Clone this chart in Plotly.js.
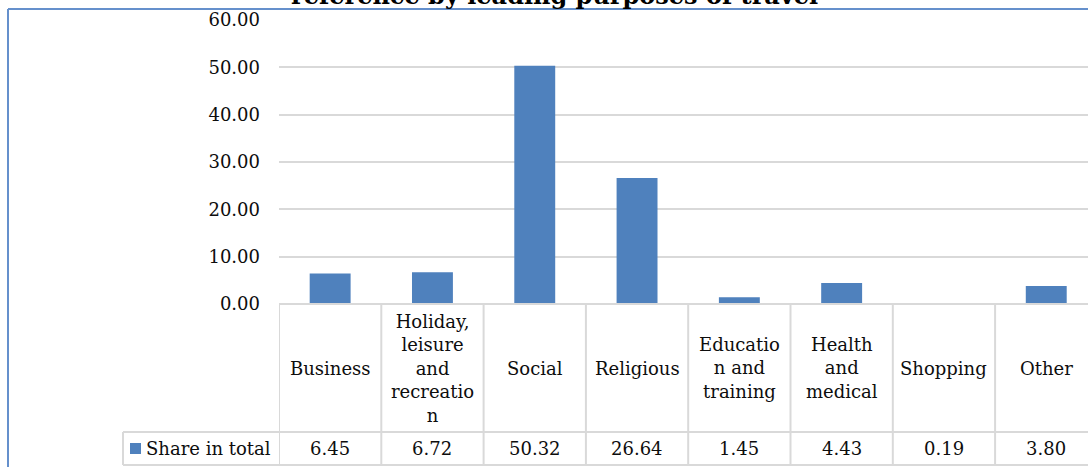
<!DOCTYPE html>
<html>
<head>
<meta charset="utf-8">
<script src="https://cdn.plot.ly/plotly-3.0.1.min.js"></script>
<style>
  html, body { margin: 0; padding: 0; background: #fff; }
  #chart { width: 1088px; height: 467px; }
</style>
</head>
<body>
<div id="chart"></div>
<script>
// Purposes of travel and their share in total (%)
const categories = ['Business', 'Holiday, leisure and recreation', 'Social', 'Religious',
                    'Education and training', 'Health and medical', 'Shopping', 'Other'];
const shareInTotal = [6.45, 6.72, 50.32, 26.64, 1.45, 4.43, 0.19, 3.80];
// Header text of the data table, wrapped as it appears in the cells
const headerLabels = ['Business', 'Holiday,<br>leisure<br>and<br>recreatio<br>n', 'Social', 'Religious',
                      'Educatio<br>n and<br>training', 'Health<br>and<br>medical', 'Shopping', 'Other'];
const seriesName = 'Share in total';
const titleText = 'reference by leading purposes of travel';
const yTickValues = [0, 10, 20, 30, 40, 50, 60];

const W = 1088, H = 467;
const plotLeft = 279, plotTop = 20, plotBottom = 304;
const plotH = plotBottom - plotTop;
const plotW = W - plotLeft;
const colW = 102.3;

const FONT = 'DejaVu Serif, Liberation Serif, serif';
const TEXT = '#0d0d0d';
const BAR = '#4f81bd';
const GRID = '#d9d9d9';

// pixel -> paper helpers for table furniture
const py = p => (plotBottom - p) / plotH;
const px = p => (p - plotLeft) / plotW;

const idx = categories.map((_, i) => i);

const trace = {
  type: 'bar',
  x: idx,
  y: shareInTotal,
  name: seriesName,
  marker: { color: BAR },
  width: 0.4,
  hoverinfo: 'skip',
  showlegend: false
};

const shapes = [];
const annotations = [];
const tableRowTop = 304, tableRowMid = 432, tableRowBot = 465, legendLeft = 123;
const lineStyle = { color: GRID, width: 2 };

// table grid: column separators
for (let k = 0; k <= categories.length; k++) {
  shapes.push({ type: 'line', xref: 'x', yref: 'paper',
    x0: k - 0.5, x1: k - 0.5, y0: py(tableRowTop), y1: py(tableRowBot), line: lineStyle, layer: 'above' });
}
// table grid: rows
shapes.push({ type: 'line', xref: 'paper', yref: 'paper', x0: 0, x1: 1,
  y0: py(tableRowTop), y1: py(tableRowTop), line: lineStyle });
shapes.push({ type: 'line', xref: 'paper', yref: 'paper', x0: px(legendLeft), x1: 1,
  y0: py(tableRowMid), y1: py(tableRowMid), line: lineStyle });
shapes.push({ type: 'line', xref: 'paper', yref: 'paper', x0: px(legendLeft), x1: 1,
  y0: py(tableRowBot), y1: py(tableRowBot), line: lineStyle });
shapes.push({ type: 'line', xref: 'paper', yref: 'paper', x0: px(legendLeft), x1: px(legendLeft),
  y0: py(tableRowMid), y1: py(tableRowBot), line: lineStyle });
// legend key square
shapes.push({ type: 'rect', xref: 'paper', yref: 'paper', x0: px(130), x1: px(141),
  y0: py(443), y1: py(454), fillcolor: BAR, line: { width: 0 } });
// chart frame
shapes.push({ type: 'line', xref: 'paper', yref: 'paper', x0: px(8), x1: px(8),
  y0: py(9), y1: py(470), line: { color: '#6590cc', width: 2 } });
shapes.push({ type: 'line', xref: 'paper', yref: 'paper', x0: px(8), x1: 1.02,
  y0: py(9), y1: py(9), line: { color: '#6590cc', width: 2 } });

// header cells and value cells
idx.forEach(i => {
  annotations.push({ xref: 'x', yref: 'paper', x: i, y: py(368), text: headerLabels[i],
    showarrow: false, xanchor: 'center', yanchor: 'middle', align: 'center',
    font: { family: FONT, size: 18, color: TEXT } });
  annotations.push({ xref: 'x', yref: 'paper', x: i, y: py(449), text: shareInTotal[i].toFixed(2),
    showarrow: false, xanchor: 'center', yanchor: 'middle',
    font: { family: FONT, size: 18, color: TEXT } });
});
// legend label
annotations.push({ xref: 'paper', yref: 'paper', x: px(144), y: py(448), text: seriesName,
  showarrow: false, xanchor: 'left', yanchor: 'middle',
  font: { family: FONT, size: 18, color: TEXT } });
// title (its upper part runs off the top edge)
annotations.push({ xref: 'paper', yref: 'paper', x: px(554), y: py(12), text: '<b>' + titleText + '</b>',
  showarrow: false, xanchor: 'center', yanchor: 'bottom',
  font: { family: FONT, size: 24, color: '#000' } });

const layout = {
  width: W, height: H,
  margin: { l: plotLeft, r: 0, t: plotTop, b: H - plotBottom, autoexpand: false },
  paper_bgcolor: '#fff', plot_bgcolor: '#fff',
  showlegend: false,
  xaxis: {
    range: [-0.5, -0.5 + plotW / colW],
    showticklabels: false, showgrid: false, zeroline: false, showline: false, ticks: '',
    fixedrange: true
  },
  yaxis: {
    range: [0, 60],
    tickvals: yTickValues,
    tickformat: '.2f',
    showgrid: true, gridcolor: GRID, gridwidth: 2,
    zeroline: false, showline: false, ticks: '',
    ticklabelstandoff: 18,
    tickfont: { family: FONT, size: 18, color: TEXT },
    fixedrange: true
  },
  shapes: shapes,
  annotations: annotations
};

Plotly.newPlot('chart', [trace], layout, { staticPlot: true, displayModeBar: false });
</script>
</body>
</html>
